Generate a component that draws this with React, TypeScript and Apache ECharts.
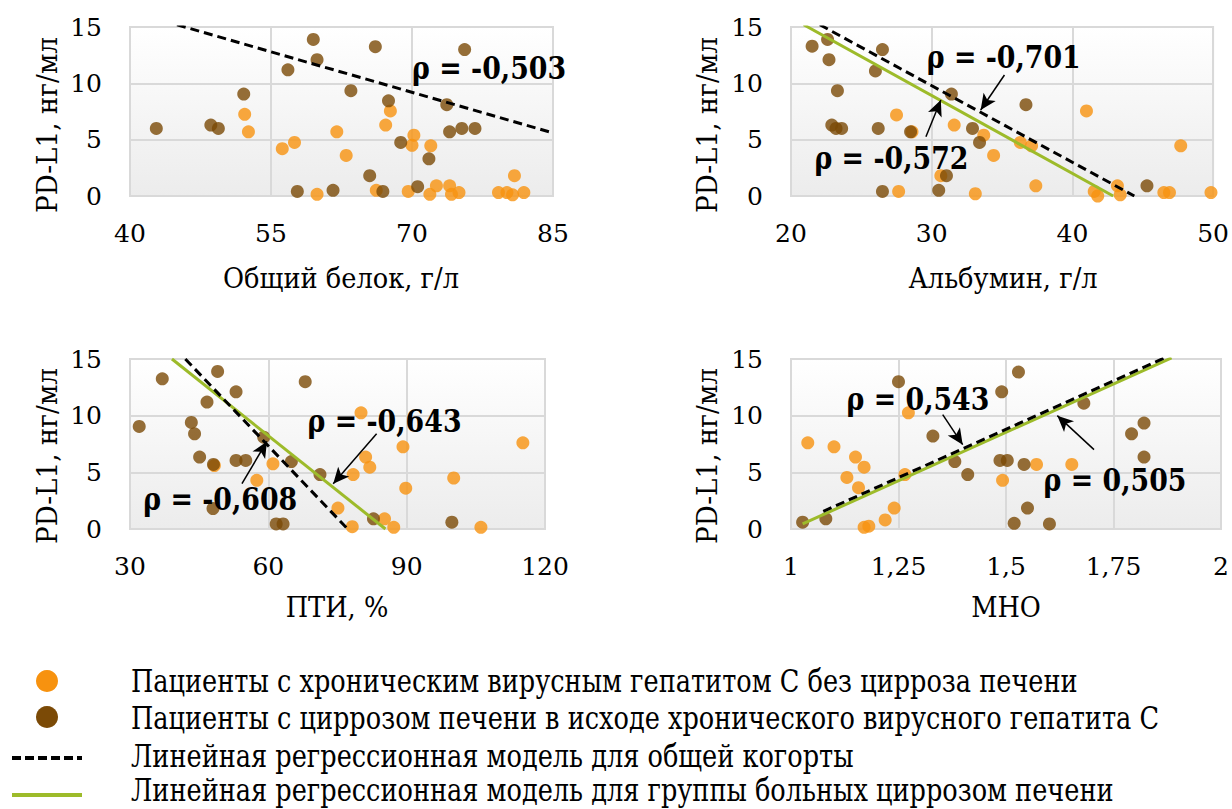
import React, { useEffect, useRef } from "react";
import * as echarts from "echarts";

const ORANGE = "#F7920F";
const BROWN = "#7B4A06";
const GREEN = "#9DBB2A";
const GRID_LINE = "#d9d9d9";
const FONT = "DejaVu Serif, serif";

// Y axis (shared by all panels)
const yTitle = "PD-L1, нг/мл";
const yMin = 0;
const yMax = 15;
const yStep = 5;

// Общий белок, г/л
const proteinNoCirrhosis: [number, number][] = [
  [52.2, 7.25], [52.6, 5.7], [56.2, 4.2], [57.5, 4.75], [59.9, 0.15], [62.0, 5.7],
  [63.0, 3.6], [66.2, 0.5], [67.7, 7.55], [67.2, 6.3], [69.6, 0.4], [70.2, 5.4],
  [70.0, 4.5], [72.0, 4.45], [71.9, 0.15], [72.6, 0.9], [74.0, 0.9], [74.2, 0.15],
  [75.0, 0.3], [79.2, 0.3], [80.1, 0.3], [80.7, 0.1], [80.9, 1.8], [81.9, 0.3],
];
const proteinCirrhosis: [number, number][] = [
  [42.8, 6.0], [48.6, 6.3], [49.4, 6.0], [52.1, 9.05], [56.8, 11.2], [59.5, 13.9],
  [59.9, 12.1], [57.8, 0.4], [61.6, 0.5], [63.5, 9.35], [66.1, 13.25], [67.5, 8.45],
  [65.5, 1.8], [66.9, 0.4], [68.8, 4.75], [70.6, 0.83], [71.8, 3.3], [73.7, 8.1],
  [74.0, 5.7], [75.3, 6.0], [76.7, 6.0], [75.6, 13.0],
];
const proteinTrendAll: [number, number][] = [[45, 15.2], [85, 5.6]];

// Альбумин, г/л
const albuminNoCirrhosis: [number, number][] = [
  [27.5, 7.2], [27.65, 0.4], [28.6, 5.7], [30.65, 1.8], [31.6, 6.3], [33.1, 0.2],
  [33.7, 5.4], [34.4, 3.6], [36.3, 4.75], [37.1, 4.45], [37.4, 0.9], [41.0, 7.55],
  [41.55, 0.4], [41.8, 0.0], [43.2, 0.9], [43.4, 0.1], [46.5, 0.3], [46.9, 0.3],
  [47.7, 4.45], [49.85, 0.3],
];
const albuminCirrhosis: [number, number][] = [
  [21.5, 13.3], [22.6, 13.9], [22.7, 12.1], [23.3, 9.35], [22.9, 6.3], [23.2, 6.0],
  [23.6, 6.0], [26.0, 11.1], [26.5, 13.0], [26.2, 6.0], [26.5, 0.4], [28.5, 5.7],
  [30.5, 0.5], [31.05, 1.8], [31.4, 9.05], [32.9, 6.0], [33.4, 4.75], [36.7, 8.1],
  [45.3, 0.9],
];
const albuminTrendAll: [number, number][] = [[22.05, 15.2], [44.4, 0]];
const albuminTrendCirrhosis: [number, number][] = [[20.9, 15.2], [42.9, 0]];

// ПТИ, %
const ptiNoCirrhosis: [number, number][] = [
  [48.3, 5.6], [57.5, 4.3], [61.0, 5.75], [75.1, 1.85], [78.2, 0.2], [78.4, 4.8],
  [80.1, 10.25], [81.1, 6.35], [82.0, 5.45], [85.2, 0.9], [87.2, 0.15], [89.2, 7.25],
  [89.8, 3.6], [100.2, 4.5], [106.1, 0.15], [115.2, 7.6],
];
const ptiCirrhosis: [number, number][] = [
  [32.0, 9.05], [37.0, 13.25], [49.0, 13.9], [53.0, 12.1], [46.7, 11.2], [43.3, 9.4],
  [44.0, 8.4], [45.1, 6.35], [48.1, 5.7], [53.0, 6.05], [55.1, 6.05], [48.0, 1.8],
  [59.0, 8.1], [61.7, 0.45], [63.2, 0.45], [65.0, 5.95], [68.0, 13.0], [71.2, 4.8],
  [82.8, 0.9], [99.8, 0.6],
];
const ptiTrendAll: [number, number][] = [[42.0, 15], [77.2, 0]];
const ptiTrendCirrhosis: [number, number][] = [[39.1, 15], [85.4, 0]];

// МНО
const inrNoCirrhosis: [number, number][] = [
  [1.039, 7.6], [1.1, 7.25], [1.15, 6.35], [1.17, 5.45], [1.13, 4.55], [1.157, 3.65],
  [1.17, 0.15], [1.181, 0.25], [1.219, 0.8], [1.24, 1.85], [1.273, 10.25], [1.265, 4.8],
  [1.492, 4.3], [1.571, 5.7], [1.653, 5.7],
];
const inrCirrhosis: [number, number][] = [
  [1.027, 0.6], [1.081, 0.9], [1.25, 13.0], [1.33, 8.2], [1.381, 5.95], [1.411, 4.8],
  [1.49, 12.1], [1.486, 6.05], [1.503, 6.05], [1.529, 13.85], [1.519, 0.5], [1.542, 5.7],
  [1.55, 1.85], [1.601, 0.45], [1.681, 11.1], [1.792, 8.4], [1.821, 9.35], [1.821, 6.35],
];
const inrTrendAll: [number, number][] = [[1.075, 1.55], [1.875, 15.2]];
const inrTrendCirrhosis: [number, number][] = [[1.027, 0.45], [1.885, 15.1]];

// Correlation labels: [panel, x, y, text]
const rhoLabels: [number, number, number, string][] = [
  [0, 78.2, 11.36, "ρ = -0,503"],
  [1, 35.12, 12.33, "ρ = -0,701"],
  [1, 27.14, 3.37, "ρ = -0,572"],
  [2, 85.2, 9.47, "ρ = -0,643"],
  [2, 49.57, 2.59, "ρ = -0,608"],
  [3, 1.2953, 11.43, "ρ = 0,543"],
  [3, 1.7535, 4.26, "ρ = 0,505"],
];

// Pointer arrows (from label towards its regression line), per panel
const arrowsAll: [number, number][][][] = [
  [],
  [[[35.17, 10.74], [33.48, 7.63]]],
  [[[54.28, 4.0], [59.7, 7.73]]],
  [[[1.3528, 10.09], [1.3993, 7.44]]],
];
const arrowsCirrhosis: [number, number][][][] = [
  [],
  [[[29.59, 5.26], [30.65, 8.52]]],
  [[[83.48, 8.41], [74.07, 4.0]]],
  [[[1.7047, 7.0], [1.6193, 10.0]]],
];

const legendItems = [
  "Пациенты с хроническим вирусным гепатитом С без цирроза печени",
  "Пациенты с циррозом печени в исходе хронического вирусного гепатита С",
  "Линейная регрессионная модель для общей когорты",
  "Линейная регрессионная модель для группы больных циррозом печени",
];

const panels = [
  {
    title: "Общий белок, г/л", min: 40, max: 85, step: 15,
    box: { left: 130, top: 27, width: 423, height: 169 },
    titlePos: [341, 278], yTitlePos: [47, 125],
    orange: proteinNoCirrhosis, brown: proteinCirrhosis,
    trendAll: proteinTrendAll, trendCirrhosis: null as [number, number][] | null,
  },
  {
    title: "Альбумин, г/л", min: 20, max: 50, step: 10,
    box: { left: 791, top: 27, width: 423, height: 169 },
    titlePos: [1003, 278], yTitlePos: [707, 125],
    orange: albuminNoCirrhosis, brown: albuminCirrhosis,
    trendAll: albuminTrendAll, trendCirrhosis: albuminTrendCirrhosis,
  },
  {
    title: "ПТИ, %", min: 30, max: 120, step: 30,
    box: { left: 130, top: 359, width: 415, height: 170 },
    titlePos: [337, 607], yTitlePos: [47, 456],
    orange: ptiNoCirrhosis, brown: ptiCirrhosis,
    trendAll: ptiTrendAll, trendCirrhosis: ptiTrendCirrhosis,
  },
  {
    title: "МНО", min: 1, max: 2, step: 0.25,
    box: { left: 791, top: 359, width: 430, height: 170 },
    titlePos: [1006, 607], yTitlePos: [707, 456],
    orange: inrNoCirrhosis, brown: inrCirrhosis,
    trendAll: inrTrendAll, trendCirrhosis: inrTrendCirrhosis,
  },
];

// The serif face available is wide, so long texts get a horizontal squeeze
// that keeps them at the intended line length.
const measureCtx = document.createElement("canvas").getContext("2d")!;
function squeeze(sample: string, size: number, targetWidth: number, weight = "normal") {
  measureCtx.font = `${weight} ${size}px ${FONT}`;
  const w = measureCtx.measureText(sample).width;
  return w > 0 ? Math.min(1, targetWidth / w) : 1;
}

const arrowMarkLine = (arrows: [number, number][][]) => ({
  silent: true,
  symbol: ["none", "arrow"],
  symbolSize: [11, 16],
  label: { show: false },
  lineStyle: { color: "#000", width: 1.5, type: "solid" },
  emphasis: { disabled: true },
  data: arrows.map(([a, b]) => [{ coord: a }, { coord: b }]),
});

function buildOption() {
  const bg = new echarts.graphic.LinearGradient(0, 0, 0, 1, [
    { offset: 0, color: "#ffffff" },
    { offset: 1, color: "#ececec" },
  ]);
  const series: any[] = [];
  panels.forEach((p, i) => {
    series.push({
      type: "scatter", xAxisIndex: i, yAxisIndex: i, data: p.orange,
      symbolSize: 13, itemStyle: { color: ORANGE }, z: 2,
    });
    series.push({
      type: "scatter", xAxisIndex: i, yAxisIndex: i, data: p.brown,
      symbolSize: 13, itemStyle: { color: BROWN }, z: 3,
    });
    if (p.trendCirrhosis) {
      series.push({
        type: "line", xAxisIndex: i, yAxisIndex: i, data: p.trendCirrhosis,
        symbol: "none", clip: true, z: 4,
        lineStyle: { color: GREEN, width: 3 },
        markLine: arrowMarkLine(arrowsCirrhosis[i]),
      });
    }
    series.push({
      type: "line", xAxisIndex: i, yAxisIndex: i, data: p.trendAll,
      symbol: "none", clip: true, z: 5,
      lineStyle: { color: "#000", width: 3, type: [9, 5] },
      markLine: arrowMarkLine(arrowsAll[i]),
    });
  });

  return {
    animation: false,
    backgroundColor: "#ffffff",
    textStyle: { fontFamily: FONT },
    grid: panels.map((p) => ({
      ...p.box, show: true, backgroundColor: bg,
      borderColor: GRID_LINE, borderWidth: 2, containLabel: false,
    })),
    xAxis: panels.map((p, i) => ({
      type: "value", gridIndex: i, min: p.min, max: p.max, interval: p.step,
      axisLine: { show: false }, axisTick: { show: false },
      splitLine: { show: true, lineStyle: { color: GRID_LINE, width: 2 } },
      axisLabel: {
        color: "#000", fontSize: 25, fontFamily: FONT, margin: 25,
        formatter: (v: number) => String(v).replace(".", ","),
      },
    })),
    yAxis: panels.map((_, i) => ({
      type: "value", gridIndex: i, min: yMin, max: yMax, interval: yStep,
      axisLine: { show: false }, axisTick: { show: false },
      splitLine: { show: true, lineStyle: { color: GRID_LINE, width: 2 } },
      axisLabel: { color: "#000", fontSize: 25, fontFamily: FONT, margin: 28 },
    })),
    series,
  };
}

function buildGraphics(chart: echarts.ECharts) {
  const g: any[] = [];
  const titleScale = squeeze(panels[0].title, 28, 236);
  const yTitleScale = squeeze(yTitle, 28, 176);
  const rhoScale = squeeze(rhoLabels[0][3], 31, 154, "bold");
  const legendScale = squeeze(legendItems[1], 31, 1028);

  panels.forEach((p) => {
    g.push({
      type: "text", x: p.titlePos[0], y: p.titlePos[1], scaleX: titleScale, z: 100,
      style: { text: p.title, fontSize: 28, fontFamily: FONT, fill: "#000", align: "center", verticalAlign: "middle" },
    });
    g.push({
      type: "text", x: p.yTitlePos[0], y: p.yTitlePos[1], rotation: Math.PI / 2, scaleX: yTitleScale, z: 100,
      style: { text: yTitle, fontSize: 28, fontFamily: FONT, fill: "#000", align: "center", verticalAlign: "middle" },
    });
  });
  rhoLabels.forEach(([gi, x, y, text]) => {
    const [px, py] = chart.convertToPixel({ gridIndex: gi }, [x, y]) as number[];
    g.push({
      type: "text", x: px, y: py, scaleX: rhoScale, z: 100,
      style: {
        text, fontSize: 31, fontWeight: "bold", fontFamily: FONT, fill: "#000",
        align: "center", verticalAlign: "middle",
      },
    });
  });

  // Legend
  const rows = [682, 719, 757, 791];
  g.push({ type: "circle", z: 100, shape: { cx: 47, cy: 681, r: 11 }, style: { fill: ORANGE } });
  g.push({ type: "circle", z: 100, shape: { cx: 47, cy: 717, r: 11 }, style: { fill: BROWN } });
  g.push({
    type: "line", z: 100, shape: { x1: 12, y1: 758, x2: 82, y2: 758 },
    style: { stroke: "#000", lineWidth: 4, lineDash: [9, 4] },
  });
  g.push({
    type: "line", z: 100, shape: { x1: 12, y1: 795, x2: 82, y2: 795 },
    style: { stroke: GREEN, lineWidth: 4 },
  });
  legendItems.forEach((text, i) => {
    g.push({
      type: "text", x: 131, y: rows[i], scaleX: legendScale, z: 100,
      style: { text, fontSize: 31, fontFamily: FONT, fill: "#000", align: "left", verticalAlign: "middle" },
    });
  });
  return g;
}

export default function App() {
  const ref = useRef<HTMLDivElement>(null);
  useEffect(() => {
    const chart = echarts.init(ref.current!, null, { renderer: "svg" });
    chart.setOption(buildOption() as any);
    chart.setOption({ graphic: buildGraphics(chart) } as any);
    return () => chart.dispose();
  }, []);
  return (
    <div
      ref={ref}
      style={{ position: "fixed", left: 0, top: 0, width: 1232, height: 809, background: "#fff" }}
    />
  );
}
